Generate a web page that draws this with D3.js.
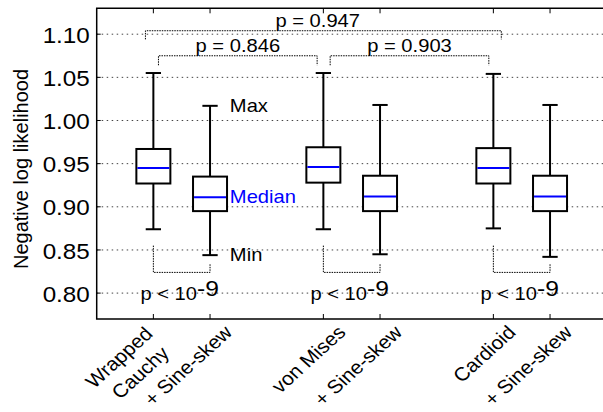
<!DOCTYPE html>
<html>
<head>
<meta charset="utf-8">
<script src="https://cdn.jsdelivr.net/npm/d3@7"></script>
<style>
  body { margin: 0; background: #fff; }
  text { font-family: "Liberation Sans", Arial, sans-serif; fill: #000; }
</style>
</head>
<body>
<div id="chart"></div>
<script>
// Box statistics, one entry per box
const categories = [["Wrapped", "Cauchy"], ["+ Sine-skew"], ["von Mises"], ["+ Sine-skew"], ["Cardioid"], ["+ Sine-skew"]];
const positions = [1, 2, 4, 5, 7, 8];
const mins    = [0.874, 0.844, 0.874, 0.845, 0.875, 0.842];
const q1s     = [0.927, 0.895, 0.928, 0.895, 0.927, 0.895];
const medians = [0.945, 0.911, 0.946, 0.912, 0.945, 0.912];
const q3s     = [0.967, 0.935, 0.969, 0.936, 0.968, 0.936];
const maxs    = [1.055, 1.017, 1.055, 1.018, 1.054, 1.018];

const yTicks = [0.80, 0.85, 0.90, 0.95, 1.00, 1.05, 1.10];

// comparisons between the base models (brackets above the boxes)
const topLabels = ["p = 0.947", "p = 0.846", "p = 0.903"];
const topLabelX = [3.9, 2.49, 5.52];
const topFrom   = [0.86, 1.09, 4.12];
const topTo     = [7.14, 3.89, 6.92];
const topLevel  = [1.104, 1.075, 1.075];
const topLegEnd = [1.094, 1.064, 1.064];

// comparisons base vs sine-skew (brackets below the boxes)
const lowPairs   = [[1, 2], [4, 5], [7, 8]];
const lowLevel   = 0.824;
const lowLegLeft = 0.855;
const lowLegRight = 0.834;
const lowLabelY  = 0.792;

// explanation labels next to the second box
const noteTexts  = ["Max", "Median", "Min"];
const noteY      = [1.010, 0.9045, 0.8375];
const noteColors = ["#000", "#0000ff", "#000"];
const noteX      = 2.35;

const W = 603, H = 412;
const margin = { top: 8.3, left: 96.7, bottom: 93 };
const plotRight = 606.7;
const SX = 1.12;       // text is slightly wider than tall in the picture
const FS = 18;

const svg = d3.select("#chart").append("svg")
    .attr("width", W)
    .attr("height", H);

const x = d3.scaleLinear().domain([0, 9]).range([margin.left, plotRight]);
const y = d3.scaleLinear().domain([0.77, 1.13]).range([H - margin.bottom, margin.top]);

function stretched(sel, px, py) {
    return sel.attr("transform", `translate(${px},${py}) scale(${SX},1)`);
}

// grid
svg.append("g").selectAll("line")
    .data(yTicks)
    .join("line")
    .attr("x1", x(0)).attr("x2", x(9))
    .attr("y1", d => y(d)).attr("y2", d => y(d))
    .attr("stroke", "#444")
    .attr("stroke-width", 1)
    .attr("stroke-dasharray", "1.5,3.5");

// top brackets
topLabels.forEach((lab, i) => {
    const path = d3.path();
    path.moveTo(x(topFrom[i]), y(topLegEnd[i]));
    path.lineTo(x(topFrom[i]), y(topLevel[i]));
    path.lineTo(x(topTo[i]), y(topLevel[i]));
    path.lineTo(x(topTo[i]), y(topLegEnd[i]));
    svg.append("path")
        .attr("d", path.toString())
        .attr("fill", "none")
        .attr("stroke", "#000")
        .attr("stroke-width", 1)
        .attr("stroke-dasharray", "1.5,1");
    stretched(svg.append("text"), x(topLabelX[i]), y(topLevel[i]) - 3.5)
        .attr("text-anchor", "middle")
        .style("font-size", FS + "px")
        .text(lab);
});

// lower brackets
lowPairs.forEach(p => {
    const path = d3.path();
    path.moveTo(x(p[0]), y(lowLegLeft));
    path.lineTo(x(p[0]), y(lowLevel));
    path.lineTo(x(p[1]), y(lowLevel));
    path.lineTo(x(p[1]), y(lowLegRight));
    svg.append("path")
        .attr("d", path.toString())
        .attr("fill", "none")
        .attr("stroke", "#000")
        .attr("stroke-width", 1)
        .attr("stroke-dasharray", "1.5,1");
    const t = stretched(svg.append("text"), x((p[0] + p[1]) / 2) - 2, y(lowLabelY))
        .attr("text-anchor", "middle")
        .style("font-size", FS + "px");
    t.append("tspan").text("p < 10");
    t.append("tspan").attr("dy", -4).style("font-size", "22px").text("-9");
});

// boxes
const boxW = 0.6, capW = 0.27;
const g = svg.append("g").selectAll("g")
    .data(positions.map((p, i) => ({ p, min: mins[i], q1: q1s[i], med: medians[i], q3: q3s[i], max: maxs[i] })))
    .join("g");

g.append("line")
    .attr("x1", d => x(d.p)).attr("x2", d => x(d.p))
    .attr("y1", d => y(d.max)).attr("y2", d => y(d.q3))
    .attr("stroke", "#000").attr("stroke-width", 2);
g.append("line")
    .attr("x1", d => x(d.p)).attr("x2", d => x(d.p))
    .attr("y1", d => y(d.q1)).attr("y2", d => y(d.min))
    .attr("stroke", "#000").attr("stroke-width", 2);
g.append("line")
    .attr("x1", d => x(d.p - capW / 2)).attr("x2", d => x(d.p + capW / 2))
    .attr("y1", d => y(d.max)).attr("y2", d => y(d.max))
    .attr("stroke", "#000").attr("stroke-width", 2);
g.append("line")
    .attr("x1", d => x(d.p - capW / 2)).attr("x2", d => x(d.p + capW / 2))
    .attr("y1", d => y(d.min)).attr("y2", d => y(d.min))
    .attr("stroke", "#000").attr("stroke-width", 2);
g.append("rect")
    .attr("x", d => x(d.p - boxW / 2))
    .attr("width", x(boxW) - x(0))
    .attr("y", d => y(d.q3))
    .attr("height", d => y(d.q1) - y(d.q3))
    .attr("fill", "#fff")
    .attr("stroke", "#000").attr("stroke-width", 2);
g.append("line")
    .attr("x1", d => x(d.p - boxW / 2) + 1).attr("x2", d => x(d.p + boxW / 2) - 1)
    .attr("y1", d => y(d.med)).attr("y2", d => y(d.med))
    .attr("stroke", "#0000ff").attr("stroke-width", 2);

// notes
noteTexts.forEach((t, i) => {
    stretched(svg.append("text"), x(noteX), y(noteY[i]))
        .style("font-size", FS + "px")
        .style("fill", noteColors[i])
        .text(t);
});

// frame
const y0 = y(0.77), y1 = y(1.13);
svg.append("path")
    .attr("d", `M${x(9)},${y1}H${x(0)}V${y0}H${x(9)}`)
    .attr("fill", "none")
    .attr("stroke", "#000")
    .attr("stroke-width", 1.5);

// inward ticks
svg.append("g").selectAll("line")
    .data(positions)
    .join("line")
    .attr("x1", d => x(d)).attr("x2", d => x(d))
    .attr("y1", y0).attr("y2", y0 - 5)
    .attr("stroke", "#000").attr("stroke-width", 1);
svg.append("g").selectAll("line")
    .data(positions)
    .join("line")
    .attr("x1", d => x(d)).attr("x2", d => x(d))
    .attr("y1", y1).attr("y2", y1 + 5)
    .attr("stroke", "#000").attr("stroke-width", 1);
svg.append("g").selectAll("line")
    .data(yTicks)
    .join("line")
    .attr("x1", x(0)).attr("x2", x(0) + 4)
    .attr("y1", d => y(d)).attr("y2", d => y(d))
    .attr("stroke", "#000").attr("stroke-width", 1);

// y tick labels
yTicks.forEach(v => {
    svg.append("text")
        .attr("transform", `translate(${x(0) - 7},${y(v) + 1}) scale(1.1,1)`)
        .attr("text-anchor", "end")
        .attr("dominant-baseline", "central")
        .style("font-size", "22px")
        .text(d3.format(".2f")(v));
});

// y axis title
svg.append("text")
    .attr("transform", `translate(28,169) rotate(-90)`)
    .attr("text-anchor", "middle")
    .style("font-size", "20px")
    .text("Negative log likelihood");

// rotated category labels (line ends placed along the 45 degree direction)
categories.forEach((lines, i) => {
    const n = lines.length;
    lines.forEach((line, k) => {
        const px = x(positions[i]) + 23.5 - 23 * (n - 1) + 16.5 * k;
        const py = y0 + 14.5 + 1.5 * (n - 1) + 19.5 * k;
        svg.append("text")
            .attr("transform", `translate(${px},${py}) scale(1.1,1) rotate(-45)`)
            .attr("text-anchor", "end")
            .style("font-size", "19px")
            .text(line);
    });
});
</script>
</body>
</html>
